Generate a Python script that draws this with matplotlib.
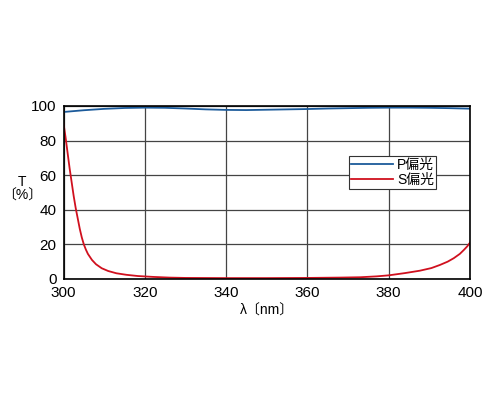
import matplotlib
matplotlib.use("Agg")
import matplotlib.pyplot as plt
import numpy as np

plt.rcParams['font.family'] = ['Liberation Sans', 'Noto Sans CJK JP', 'DejaVu Sans']

# wavelength (nm) and transmittance (%)
wl_p = [300, 305, 310, 315, 320, 325, 330, 335, 340, 345, 350, 355, 360, 365, 370, 375, 380, 385, 390, 395, 400]
t_p = [96.5, 97.5, 98.3, 98.8, 99.0, 98.9, 98.5, 98.0, 97.7, 97.6, 97.8, 98.0, 98.2, 98.5, 98.7, 98.9, 99.0, 99.0, 98.9, 98.7, 98.4]

wl_s = [300, 300.5, 301, 301.5, 302, 302.5, 303, 303.5, 304, 304.5, 305, 305.5, 306, 307, 308, 309.4, 311, 313,
        315.5, 318.3, 322, 326, 330, 340, 350, 360, 368, 373, 377, 380, 384, 387.7, 390.5, 392.6, 394.5, 396,
        397.5, 398.5, 399.3, 400]
t_s = [90, 82, 73, 64, 56, 48, 41, 35, 29, 24, 20, 17, 14.5, 11, 8.5, 6.2, 4.6, 3.3,
       2.4, 1.7, 1.2, 0.8, 0.6, 0.5, 0.5, 0.6, 0.8, 1.0, 1.5, 2.1, 3.4, 4.8, 6.3, 8.1, 10, 12,
       14.5, 16.8, 18.8, 21]

labels = ['P偏光', 'S偏光']

fig = plt.figure(figsize=(5, 4.17), dpi=100)
ax = fig.add_axes([0.127, 0.331, 0.813, 0.415])

ax.plot(wl_p, t_p, color='#1b5a9a', lw=1.3, label=labels[0])
ax.plot(wl_s, t_s, color='#d0101e', lw=1.3, label=labels[1])

ax.set_xlim(300, 400)
ax.set_ylim(0, 100)
ax.set_xticks(np.arange(300, 401, 20))
ax.set_yticks(np.arange(0, 101, 20))
ax.tick_params(length=0, labelsize=11, pad=5)
ax.grid(True, color='#444444', lw=0.9)
for sp in ax.spines.values():
    sp.set_linewidth(1.2)
    sp.set_color('black')

ax.set_xlabel('λ〔nm〕', fontsize=10, labelpad=3)
ax.set_ylabel('T\n〔%〕', fontsize=10, rotation=0, va='center', ha='center', linespacing=1.0)
ax.yaxis.set_label_coords(-0.102, 0.52)

leg = ax.legend(loc='upper left', bbox_to_anchor=(0.703, 0.71), fontsize=10,
                frameon=True, fancybox=False, edgecolor='#333333', framealpha=1,
                handlelength=3.0, handletextpad=0.3, borderpad=0.15, labelspacing=0.05,
                borderaxespad=0)
leg.get_frame().set_linewidth(0.8)

fig.savefig('out.png', dpi=100)
